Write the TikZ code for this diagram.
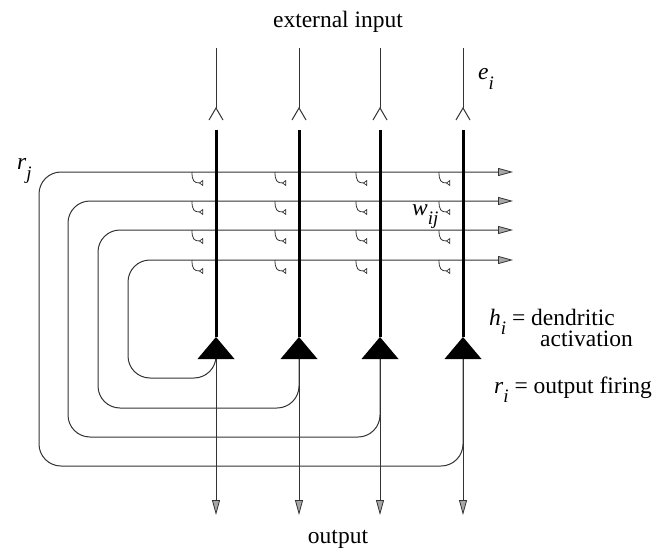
\documentclass[tikz,border=0pt]{standalone}
\usepackage{fontspec}
\setmainfont{Liberation Serif}
\usetikzlibrary{arrows.meta}
\newcommand\isub[2]{\textit{#1}\raisebox{-0.42em}{\fontsize{19}{19}\selectfont\textit{#2}}}
\begin{document}
\begin{tikzpicture}[x=1pt,y=-1pt,
  wire/.style={line width=1pt, draw=black!80},
  axon/.style={line width=3pt, draw=black},
  outarrow/.style={-{Triangle[length=15pt,width=8pt,fill=black!35,line width=0.8pt]}},
  syn/.style={line width=0.8pt, draw=black!80, -{Triangle[open,reversed,length=4pt,width=6pt,line width=0.7pt]}},
  chev/.style={line width=1pt, draw=black!80},
  fbloop/.style={wire, rounded corners=22pt, outarrow},
  soma/.style={fill=black},
  lbl/.style={font=\fontsize{23.5}{28}\selectfont, inner sep=0pt, anchor=base},
  lblw/.style={lbl, anchor=base west}
]
\useasboundingbox (0,0) rectangle (671,548);

% neuron coordinates
\foreach \k/\x in {1/216,2/299,3/380,4/463} {
  \coordinate (top\k) at (\x,48);
  \coordinate (tip\k) at (\x,108);
  \coordinate (dtop\k) at (\x,130);
  \coordinate (apex\k) at (\x,337);
  \coordinate (base\k) at (\x,359);
  \coordinate (out\k) at (\x,515);
}

% recurrent collaterals (feedback loops)
\foreach \k/\x/\s/\L/\T/\B in {1/216/350/128/260/378, 2/299/359/98/230/408, 3/380/359/68/201/437, 4/463/359/39/172/466} {
  \coordinate (fbs\k) at (\x,\s);
  \coordinate (fbe\k) at (513,\T);
  \draw[fbloop] (fbs\k) -- (\x,\B) -- (\L,\B) -- (\L,\T) -- (fbe\k);
}

% synapses
\foreach \x in {216,299,380,463} {
  \foreach \T in {172,201,230,260} {
    \draw[syn] (\x-24,\T) .. controls (\x-24,\T+9) and (\x-22,\T+11) .. (\x-13,\T+11);
  }
}

% external inputs, dendrites, somata, outputs
\foreach \k in {1,2,3,4} {
  \draw[chev] (top\k) -- (tip\k);
  \draw[chev] ([shift={(-7,12)}]tip\k) -- (tip\k) -- ([shift={(7,12)}]tip\k);
  \draw[axon] (dtop\k) -- (apex\k);
  \draw[wire, outarrow] (base\k) -- (out\k);
  \fill[soma] (apex\k) -- ([shift={(-18.5,0)}]base\k) -- ([shift={(18.5,0)}]base\k) -- cycle;
}

% labels
\node[lbl] (ext) at (338,28) {external input};
\node[lblw] (ei) at (478,80) {\isub{e}{i}};
\node[lblw] (rj) at (17,170) {\isub{r}{j}};
\node[lblw] (wij) at (412,215) {\isub{w}{ij}};
\node[lblw] (hi) at (489,325) {\isub{h}{i} = dendritic};
\node[lblw] (act) at (540,346) {activation};
\node[lblw] (ri) at (494,393) {\isub{r}{i} = output firing};
\node[lbl] (outl) at (338,543) {output};
\end{tikzpicture}
\end{document}
